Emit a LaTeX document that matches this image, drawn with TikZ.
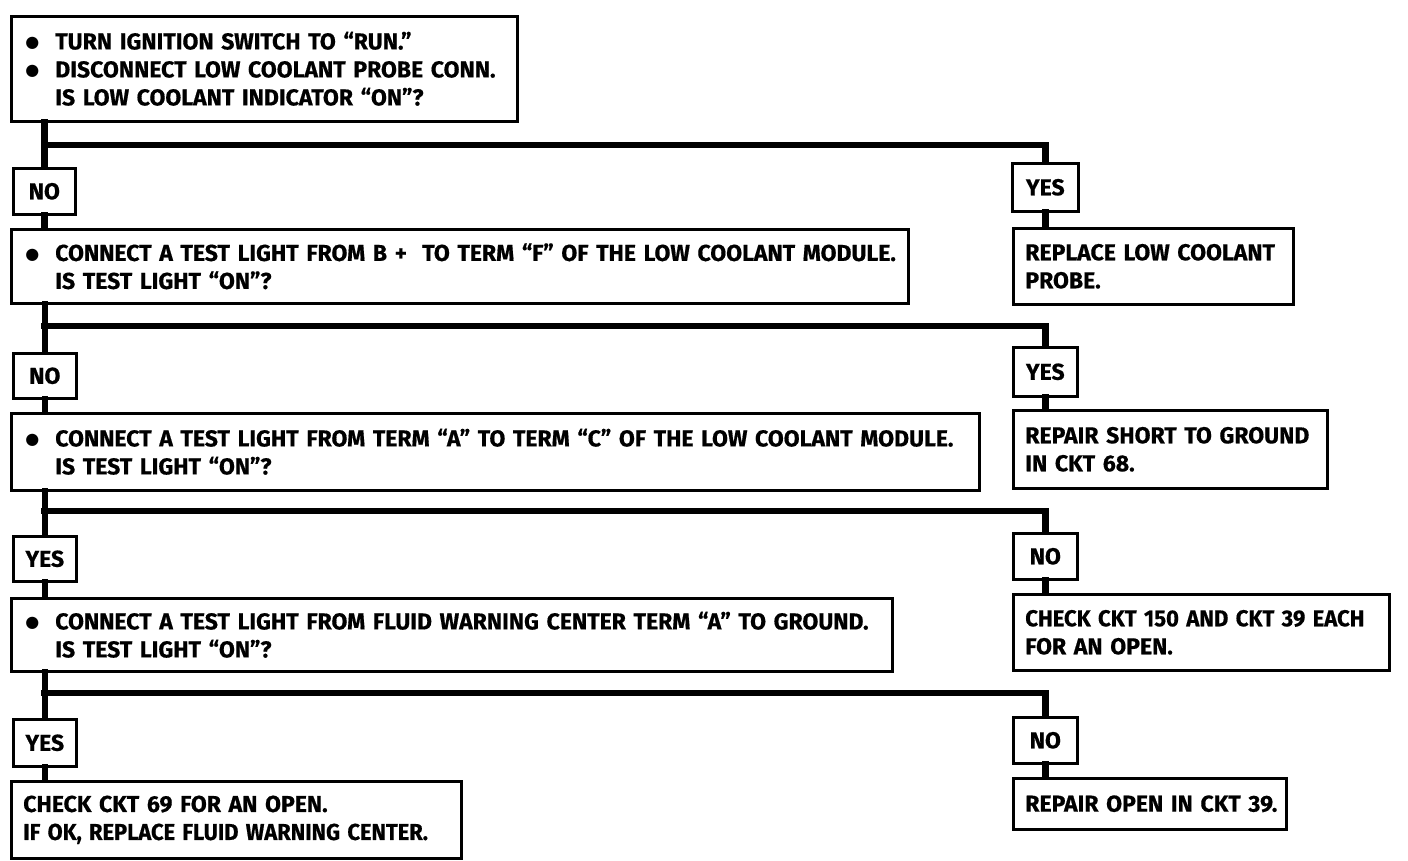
\documentclass[tikz,border=0pt]{standalone}
\usepackage{fontspec}
\usepackage{graphicx}
\newfontfamily\dfont[FakeBold=0.6]{Fira Sans}
\newfontfamily\symf{DejaVu Sans}
\newcommand{\bul}{\makebox[32pt][l]{\hspace{2pt}\raisebox{1.5pt}{\symf\fontsize{16}{16}\selectfont ●}}}
\newcommand{\ind}{\hspace{32pt}}
\newcommand{\lnx}[1]{\mbox{#1}}
\tikzset{
  txt/.style={font=\dfont\bfseries\fontsize{23}{28}\selectfont},
  box/.style={txt, draw, line width=2.6pt, inner xsep=12pt, inner ysep=0pt, anchor=north west, align=left},
  lab/.style={txt, draw, line width=2.6pt, inner sep=0pt, anchor=north west, align=center},
  trunk/.style={line width=6.5pt, line cap=rect}
}
\begin{document}
\begin{tikzpicture}[x=1pt,y=-1pt]
\useasboundingbox (0,0) rectangle (1408,860);
% question boxes
\node[box, minimum width=506, minimum height=105, text width=482] (b1) at (10,15)
  {\lnx{\bul TURN IGNITION SWITCH TO “RUN.”}\\\lnx{\bul DISCONNECT LOW COOLANT PROBE CONN.}\\\lnx{\ind IS LOW COOLANT INDICATOR “ON”?}};
\node[box, minimum width=897, minimum height=74, text width=873] (b2) at (10,228)
  {\lnx{\bul CONNECT A TEST LIGHT FROM B + \ TO TERM “F” OF THE LOW COOLANT MODULE.}\\\lnx{\ind IS TEST LIGHT “ON”?}};
\node[box, minimum width=968, minimum height=77, text width=944] (b3) at (10,412)
  {\lnx{\bul CONNECT A TEST LIGHT FROM TERM “A” TO TERM “C” OF THE LOW COOLANT MODULE.}\\\lnx{\ind IS TEST LIGHT “ON”?}};
\node[box, minimum width=881, minimum height=73, text width=857] (b4) at (10,597)
  {\lnx{\bul CONNECT A TEST LIGHT FROM FLUID WARNING CENTER TERM “A” TO GROUND.}\\\lnx{\ind IS TEST LIGHT “ON”?}};
\node[box, minimum width=450, minimum height=77, text width=426] (b5) at (10,780)
  {\lnx{CHECK CKT 69 FOR AN OPEN.}\\\lnx{\scalebox{0.95}[1]{IF OK, REPLACE FLUID WARNING CENTER.}}};
% result boxes
\node[box, minimum width=280, minimum height=76, text width=256] (r1) at (1012,227)
  {\lnx{REPLACE LOW COOLANT}\\\lnx{PROBE.}};
\node[box, minimum width=314, minimum height=78, text width=290] (r2) at (1012,409)
  {\lnx{REPAIR SHORT TO GROUND}\\\lnx{IN CKT 68.}};
\node[box, minimum width=376, minimum height=76, text width=352] (r3) at (1012,593)
  {\lnx{\scalebox{0.96}[1]{CHECK CKT 150 AND CKT 39 EACH}}\\\lnx{FOR AN OPEN.}};
\node[box, minimum width=273, minimum height=51, text width=249] (r4) at (1012,777)
  {\lnx{REPAIR OPEN IN CKT 39.}};
% labels
\node[lab, minimum width=62, minimum height=46] (no1) at (12,167) {NO};
\node[lab, minimum width=66, minimum height=48] (yes1) at (1011,162) {YES};
\node[lab, minimum width=63, minimum height=45] (no2) at (12,352) {NO};
\node[lab, minimum width=64, minimum height=49] (yes2) at (1012,346) {YES};
\node[lab, minimum width=63, minimum height=45] (yes3) at (12,535) {YES};
\node[lab, minimum width=64, minimum height=46] (no3) at (1012,532) {NO};
\node[lab, minimum width=63, minimum height=47] (yes4) at (12,718) {YES};
\node[lab, minimum width=64, minimum height=46] (no4) at (1012,716) {NO};
% junctions
\coordinate (j1) at (44,145);
\coordinate (j2) at (44,326);
\coordinate (j3) at (44,511);
\coordinate (j4) at (44,693);
% connectors
\draw[trunk] (no1.north |- b1.south) -- (no1.north);
\draw[trunk] (no1.south) -- (no1.south |- b2.north);
\draw[trunk] (j1) -| (yes1.north);
\draw[trunk] (yes1.south) -- (yes1.south |- r1.north);
\draw[trunk] (no2.north |- b2.south) -- (no2.north);
\draw[trunk] (no2.south) -- (no2.south |- b3.north);
\draw[trunk] (j2) -| (yes2.north);
\draw[trunk] (yes2.south) -- (yes2.south |- r2.north);
\draw[trunk] (yes3.north |- b3.south) -- (yes3.north);
\draw[trunk] (yes3.south) -- (yes3.south |- b4.north);
\draw[trunk] (j3) -| (no3.north);
\draw[trunk] (no3.south) -- (no3.south |- r3.north);
\draw[trunk] (yes4.north |- b4.south) -- (yes4.north);
\draw[trunk] (yes4.south) -- (yes4.south |- b5.north);
\draw[trunk] (j4) -| (no4.north);
\draw[trunk] (no4.south) -- (no4.south |- r4.north);
\end{tikzpicture}
\end{document}
